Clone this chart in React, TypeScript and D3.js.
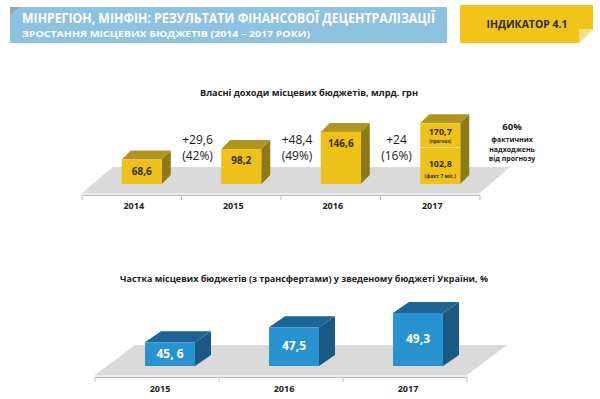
import React from 'react';
import * as d3 from 'd3';

// top chart: own revenues of local budgets, bn UAH
const revYears = ['2014', '2015', '2016', '2017'];
const revValues = [68.6, 98.2, 146.6, 170.7];
const revLabels = ['68,6', '98,2', '146,6', '170,7'];
const revFact2017 = 102.8;
const revFactLabel = '102,8';
const growthTop = ['+29,6', '+48,4', '+24'];
const growthPct = ['(42%)', '(49%)', '(16%)'];
const noteLines = ['фактичних', 'надходжень', 'від прогнозу'];

// bottom chart: share of local budgets in consolidated budget, %
const shareYears = ['2015', '2016', '2017'];
const shareValues = [45.6, 47.5, 49.3];
const shareLabels = ['45, 6', '47,5', '49,3'];

const FONT = '"Open Sans", "DejaVu Sans", sans-serif';

// simple 3d box: front face + top + right side
function Box({ x, y, w, h, dx, dy, front, top, side }: any) {
  return (
    <g>
      <polygon points={`${x},${y} ${x + dx},${y - dy} ${x + w + dx},${y - dy} ${x + w},${y}`} fill={top} />
      <polygon points={`${x + w},${y} ${x + w + dx},${y - dy} ${x + w + dx},${y + h - dy} ${x + w},${y + h}`} fill={side} />
      <rect x={x} y={y} width={w} height={h} fill={front} />
    </g>
  );
}

export default function App() {
  // ---- top chart scales
  const xTop = d3.scaleBand().domain(revYears).range([82, 480]);
  const hTop = d3.scaleLinear().domain([0, 180]).range([0, 64]);
  const baseTop = 184;
  const wTop = 40;

  // ---- bottom chart scales
  const xBot = d3.scaleBand().domain(shareYears).range([95, 467]);
  const hBot = d3.scaleLinear().domain([42.6, 49.3]).range([0, 53]);
  const baseBot = 366;
  const wBot = 50;

  const yellow = { front: '#efc11b', top: '#b09620', side: '#8e7915' };
  const blue = { front: '#2993d1', top: '#1d6592', side: '#195a82' };

  return (
    <svg width={600} height={399} style={{ position: 'absolute', left: 0, top: 0, background: '#fff' }} fontFamily={FONT}>
      <rect width={600} height={399} fill="#fff" />

      {/* header */}
      <rect x={10} y={7} width={437} height={36} fill="#8ec2e1" />
      <polygon points="10,7 19,7 10,16" fill="#9aa7ad" />
      <text x={22} y={23} fill="#fff" fontSize={14} fontWeight="bold" textLength={413} lengthAdjust="spacingAndGlyphs">
        МІНРЕГІОН, МІНФІН: РЕЗУЛЬТАТИ ФІНАНСОВОЇ ДЕЦЕНТРАЛІЗАЦІЇ
      </text>
      <text x={22} y={36.5} fill="#fff" fontSize={9.5} fontWeight="bold" textLength={288} lengthAdjust="spacingAndGlyphs">
        ЗРОСТАННЯ МІСЦЕВИХ БЮДЖЕТІВ (2014 – 2017 РОКИ)
      </text>
      <rect x={460} y={5} width={133} height={38} fill="#f1c31b" />
      <polygon points="579,43 593,29 593,43" fill="#fff" />
      <polygon points="579,29 593,29 579,43" fill="#f7df85" />
      <text x={527} y={28} textAnchor="middle" fill="#2b2b2b" fontSize={10} fontWeight="bold" textLength={81} lengthAdjust="spacingAndGlyphs">
        ІНДИКАТОР 4.1
      </text>

      {/* top chart */}
      <text x={309} y={96} textAnchor="middle" fill="#222" fontSize={9} fontWeight="bold" textLength={218} lengthAdjust="spacingAndGlyphs">
        Власні доходи місцевих бюджетів, млрд. грн
      </text>
      <polygon points="82,193 113,167 510,167 480,193" fill="#dadada" />
      <rect x={82} y={193} width={398} height={2} fill="#ececec" />
      <line x1={82} x2={480} y1={195.5} y2={195.5} stroke="#bdbdbd" />
      {[...revYears.map(d => xTop(d)!), 480].map((t, i) => (
        <line key={i} x1={t} x2={t} y1={195.5} y2={200} stroke="#bdbdbd" />
      ))}
      {revYears.map(d => (
        <text key={d} x={xTop(d)! + xTop.bandwidth() / 2 + 2} y={208.5} textAnchor="middle" fill="#222" fontSize={9} fontWeight="bold">
          {d}
        </text>
      ))}
      {revYears.map((d, i) => {
        const x = xTop(d)! + xTop.bandwidth() / 2 + 10 - wTop / 2;
        const h = hTop(revValues[i]);
        const y = baseTop - h;
        return (
          <g key={d}>
            <Box x={x} y={y} w={wTop} h={h} dx={9} dy={9} {...yellow} />
            {i < 3 && (
              <text x={x + wTop / 2} y={Math.min(y + 15, baseTop - 8)} textAnchor="middle" fill="#3a2e05" fontSize={10} fontWeight="bold">
                {revLabels[i]}
              </text>
            )}
          </g>
        );
      })}
      {(() => {
        const d = '2017';
        const x = xTop(d)! + xTop.bandwidth() / 2 + 10 - wTop / 2;
        const yTop = baseTop - hTop(revValues[3]);
        const yDiv = baseTop - hTop(revFact2017);
        const mid = (yDiv + baseTop) / 2;
        return (
          <g>
            <line x1={x} x2={x + wTop} y1={yDiv} y2={yDiv} stroke="#f8e08a" strokeWidth={1} />
            <text x={x + wTop / 2} y={yTop + 12} textAnchor="middle" fill="#3a2e05" fontSize={9} fontWeight="bold">
              {revLabels[3]}
            </text>
            <text x={x + wTop / 2} y={yTop + 20} textAnchor="middle" fill="#3a2e05" fontSize={4.5} fontWeight="bold">
              (прогноз)
            </text>
            <text x={x + wTop / 2} y={mid + 1} textAnchor="middle" fill="#3a2e05" fontSize={9} fontWeight="bold">
              {revFactLabel}
            </text>
            <text x={x + wTop / 2} y={mid + 12} textAnchor="middle" fill="#3a2e05" fontSize={5} fontWeight="bold">
              (факт 7 міс.)
            </text>
          </g>
        );
      })()}
      {growthTop.map((g, i) => {
        const cx = (xTop(revYears[i])! + xTop(revYears[i + 1])!) / 2 + xTop.bandwidth() / 2 + 16;
        return (
          <g key={g}>
            <text x={cx} y={144} textAnchor="middle" fill="#1a1a1a" fontSize={12}>{g}</text>
            <text x={cx} y={160} textAnchor="middle" fill="#1a1a1a" fontSize={12}>{growthPct[i]}</text>
          </g>
        );
      })}
      <text x={512} y={130} textAnchor="middle" fill="#222" fontSize={9.5} fontWeight="bold">60%</text>
      {noteLines.map((l, i) => (
        <text key={l} x={512} y={142 + i * 9.5} textAnchor="middle" fill="#222" fontSize={7} fontWeight="bold">
          {l}
        </text>
      ))}

      {/* bottom chart */}
      <text x={304} y={282} textAnchor="middle" fill="#222" fontSize={8.5} fontWeight="bold" textLength={368} lengthAdjust="spacingAndGlyphs">
        Частка місцевих бюджетів (з трансфертами) у зведеному бюджеті України, %
      </text>
      <polygon points="95,375 135,345 507,345 467,375" fill="#dadada" />
      <rect x={95} y={375} width={372} height={2} fill="#ececec" />
      <line x1={95} x2={467} y1={377.5} y2={377.5} stroke="#bdbdbd" />
      {[...shareYears.map(d => xBot(d)!), 467].map((t, i) => (
        <line key={i} x1={t} x2={t} y1={377.5} y2={382} stroke="#bdbdbd" />
      ))}
      {shareYears.map(d => (
        <text key={d} x={xBot(d)! + xBot.bandwidth() / 2 + 3} y={392} textAnchor="middle" fill="#222" fontSize={9} fontWeight="bold">
          {d}
        </text>
      ))}
      {shareYears.map((d, i) => {
        const x = xBot(d)! + xBot.bandwidth() / 2 + 13 - wBot / 2;
        const h = hBot(shareValues[i]);
        const y = baseBot - h;
        return (
          <g key={d}>
            <Box x={x} y={y} w={wBot} h={h} dx={16} dy={11} {...blue} />
            <text x={x + wBot / 2} y={y + h / 2 - 1} dominantBaseline="central" textAnchor="middle" fill="#fff" fontSize={12} fontWeight="bold">
              {shareLabels[i]}
            </text>
          </g>
        );
      })}
    </svg>
  );
}
